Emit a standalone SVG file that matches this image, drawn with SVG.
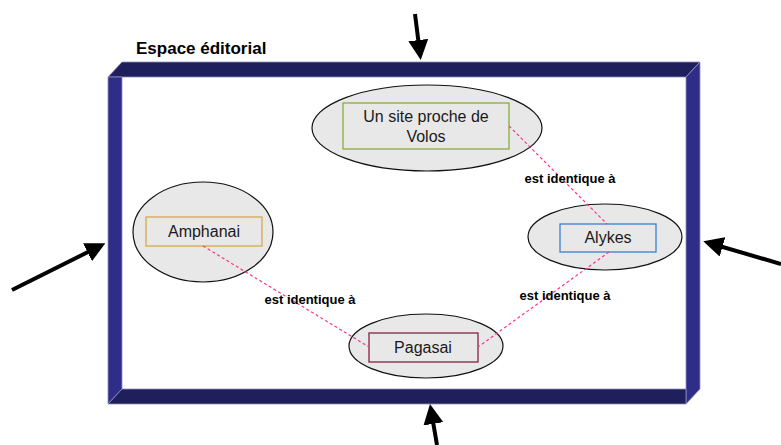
<svg xmlns="http://www.w3.org/2000/svg" width="781" height="445" viewBox="0 0 781 445">
<style>
.dark{fill:#1f1f5c;stroke:#8f8fc0;stroke-width:0.8}
.light{fill:#2e2e88;stroke:#8f8fc0;stroke-width:0.8}
.ell{fill:#e8e8e8;stroke:#111;stroke-width:1.2}
.nt{font-family:"Liberation Sans",Arial,sans-serif;font-size:16px;fill:#1a1a1a;text-anchor:middle}
.lbl{font-family:"Liberation Sans",Arial,sans-serif;font-size:13px;font-weight:bold;fill:#000;text-anchor:middle}
.conn{stroke:#ff3388;stroke-width:1.2;stroke-dasharray:3,2.5;fill:none}
.big{stroke:#000;stroke-width:4;fill:none;marker-end:url(#ah)}
</style>
<defs>
<marker id="ah" markerWidth="5" markerHeight="5" refX="3.5" refY="2.5" orient="auto" markerUnits="strokeWidth">
<path d="M0,0 L5,2.5 L0,5 Z" fill="#000"/>
</marker>
</defs>
<rect width="781" height="445" fill="#fff"/>
<g id="frame">
<rect x="122" y="77" width="564" height="312" fill="#fff"/>
<polygon class="dark" points="122,62 700,62 686,77 108,77"/>
<polygon class="light" points="700,62 700,389 686,404 686,77"/>
<polygon class="light" points="108,77 122,77 122,389 108,404"/>
<polygon class="dark" points="108,404 122,389 686,389 686,404"/>
<text x="136" y="54" font-family="Liberation Sans,Arial,sans-serif" font-size="17" font-weight="bold" fill="#000">Espace éditorial</text>
</g>
<g id="arrows">
<line class="big" x1="415" y1="14" x2="420" y2="54"/>
<line class="big" x1="12" y1="290" x2="100" y2="246"/>
<line class="big" x1="781" y1="264" x2="709" y2="243"/>
<line class="big" x1="437" y1="445" x2="431" y2="410"/>
</g>
<g id="n-volos">
<ellipse class="ell" cx="427" cy="128" rx="115" ry="43"/>
<rect x="343" y="103" width="166" height="46" fill="#e8e8e8" stroke="#8aac3c" stroke-width="1.3"/>
<text class="nt" x="426" y="122">Un site proche de</text>
<text class="nt" x="426" y="142">Volos</text>
</g>
<g id="n-amphanai">
<ellipse class="ell" cx="203" cy="232" rx="70" ry="50"/>
<rect x="146" y="217" width="116" height="29" fill="#e8e8e8" stroke="#d4a94a" stroke-width="1.3"/>
<text class="nt" x="204" y="237">Amphanai</text>
</g>
<g id="n-alykes">
<ellipse class="ell" cx="605" cy="237" rx="77" ry="33"/>
<rect x="560" y="224" width="96" height="28" fill="#e8e8e8" stroke="#3a7fd0" stroke-width="1.3"/>
<text class="nt" x="608" y="243">Alykes</text>
</g>
<g id="n-pagasai">
<ellipse class="ell" cx="426" cy="346" rx="77" ry="32"/>
<rect x="369" y="333" width="109" height="29" fill="#e8e8e8" stroke="#8a2040" stroke-width="1.3"/>
<text class="nt" x="423" y="353">Pagasai</text>
</g>
<g id="connectors">
<line class="conn" x1="509" y1="126" x2="607" y2="224"/>
<line class="conn" x1="609" y1="252" x2="478" y2="347"/>
<line class="conn" x1="203" y1="246" x2="369" y2="347"/>
<text class="lbl" x="570" y="183">est identique à</text>
<text class="lbl" x="310" y="304">est identique à</text>
<text class="lbl" x="565" y="300">est identique à</text>
</g>
</svg>
